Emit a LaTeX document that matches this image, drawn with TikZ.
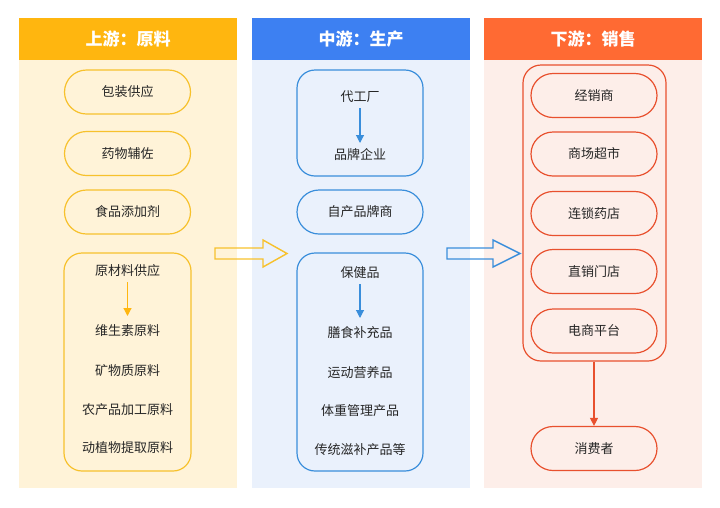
\documentclass[tikz,border=0pt]{standalone}
\usepackage{fontspec}
\setmainfont{Noto Sans CJK SC}
\usetikzlibrary{arrows.meta}
\definecolor{yhead}{HTML}{FFB60F}
\definecolor{yfill}{HTML}{FFF3D8}
\definecolor{yline}{HTML}{F7C12C}
\definecolor{bhead}{HTML}{3D80F2}
\definecolor{bfill}{HTML}{EAF1FC}
\definecolor{bline}{HTML}{3A8EDB}
\definecolor{rhead}{HTML}{FF6A33}
\definecolor{rfill}{HTML}{FDEEE9}
\definecolor{rline}{HTML}{E8502E}
\definecolor{txt}{HTML}{262626}
\tikzset{
  x=1pt,y=-1pt,
  headtxt/.style={text=white,font=\fontsize{17}{17}\selectfont\bfseries},
  lbl/.style={text=txt,font=\fontsize{13}{13}\selectfont,inner sep=0},
  pill/.style={draw,line width=1.2pt,rounded corners=22,minimum width=126,minimum height=44,text=txt,font=\fontsize{13}{13}\selectfont,inner sep=0},
  grp/.style={draw,line width=1.2pt,rounded corners=18,inner sep=0},
  flow/.style={line width=1.1pt,-{Triangle[length=8,width=8]}},
  hollow/.style={line width=1.4pt,line join=miter}
}
\begin{document}
\begin{tikzpicture}
\useasboundingbox (0,0) rectangle (720,507);
% columns
\fill[yfill] (19,60) rectangle (237,488);
\fill[yhead] (19,18) rectangle (237,60);
\node[headtxt] (h1) at (128,39) {上游：原料};
\fill[bfill] (252,60) rectangle (470,488);
\fill[bhead] (252,18) rectangle (470,60);
\node[headtxt] (h2) at (361,39) {中游：生产};
\fill[rfill] (484,60) rectangle (702,488);
\fill[rhead] (484,18) rectangle (702,60);
\node[headtxt] (h3) at (593,39) {下游：销售};
% left column
\node[pill,draw=yline] (a1) at (127.5,92) {包装供应};
\node[pill,draw=yline] (a2) at (127.5,153.5) {药物辅佐};
\node[pill,draw=yline] (a3) at (127.5,212) {食品添加剂};
\draw[grp,draw=yline] (64,253) rectangle (191,471);
\node[lbl] (a4) at (127.5,271) {原材料供应};
\node[lbl] (a5) at (127.5,331) {维生素原料};
\node[lbl] (a6) at (127.5,371) {矿物质原料};
\node[lbl] (a7) at (127.5,410) {农产品加工原料};
\node[lbl] (a8) at (127.5,448) {动植物提取原料};
\draw[flow,draw=yhead,-{Triangle[length=8,width=8,fill=yhead]}] (127.5,282) -- (127.5,316);
% middle column
\draw[grp,draw=bline] (297,70) rectangle (423,176);
\node[lbl] (b1) at (360,97) {代工厂};
\node[lbl] (b2) at (360,155) {品牌企业};
\draw[flow,draw=bline] (360,108) -- (360,143);
\node[pill,draw=bline] (b3) at (360,212) {自产品牌商};
\draw[grp,draw=bline] (297,253) rectangle (423,471);
\node[lbl] (b4) at (360,273) {保健品};
\node[lbl] (b5) at (360,333) {膳食补充品};
\node[lbl] (b6) at (360,373) {运动营养品};
\node[lbl] (b7) at (360,411) {体重管理产品};
\node[lbl] (b8) at (360,450) {传统滋补产品等};
\draw[flow,draw=bline] (360,284) -- (360,318);
% right column
\node[grp,draw=rline,minimum width=143,minimum height=296] (rg) at (594.5,213) {};
\node[pill,draw=rline] (c1) at (594,95.5) {经销商};
\node[pill,draw=rline] (c2) at (594,154) {商场超市};
\node[pill,draw=rline] (c3) at (594,213.5) {连锁药店};
\node[pill,draw=rline] (c4) at (594,271.5) {直销门店};
\node[pill,draw=rline] (c5) at (594,331) {电商平台};
\node[pill,draw=rline] (c6) at (594,448.5) {消费者};
\draw[flow,draw=rline] (c6.north |- rg.south) -- (c6.north);
% hollow arrows
\draw[hollow,draw=yline] (215,248) -- (263,248) -- (263,240) -- (287,253.5) -- (263,267) -- (263,259) -- (215,259) -- cycle;
\draw[hollow,draw=bline] (447,248) -- (493,248) -- (493,240) -- (520,253.5) -- (493,267) -- (493,259) -- (447,259) -- cycle;
\end{tikzpicture}
\end{document}
